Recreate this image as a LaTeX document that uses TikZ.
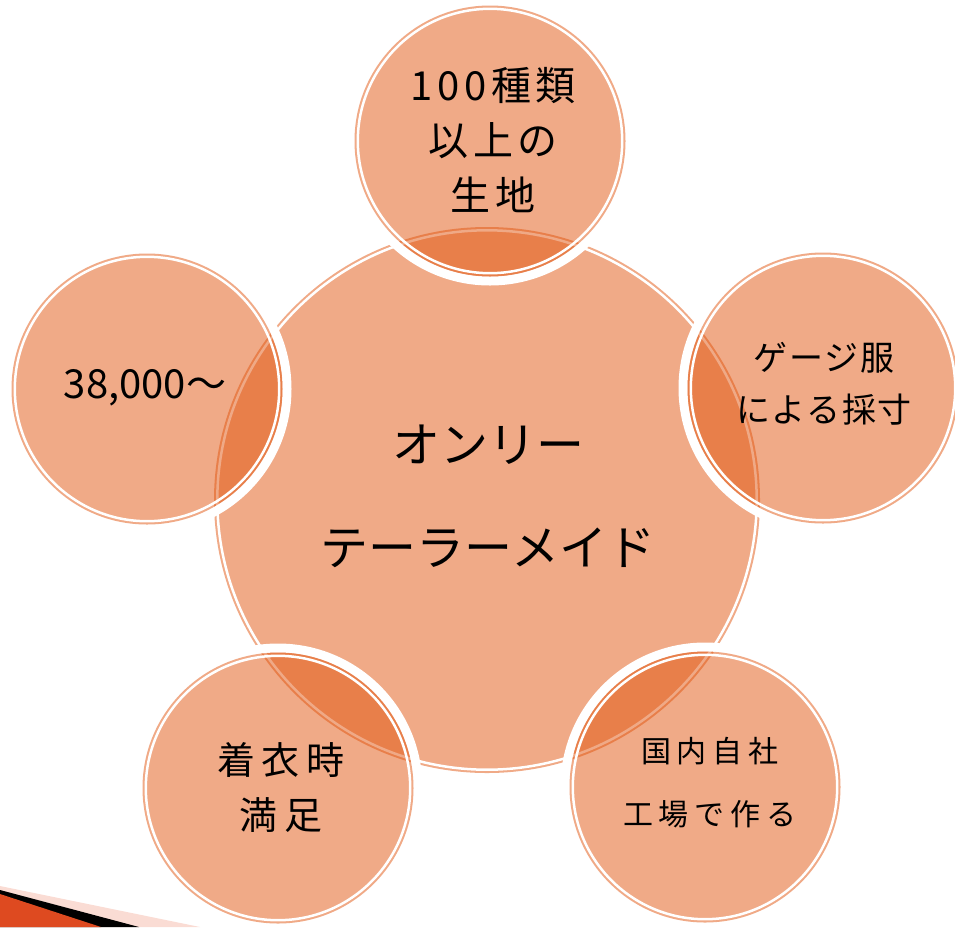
\documentclass[tikz,border=0pt]{standalone}
\usepackage{fontspec}
\setmainfont{Noto Sans CJK JP}
\definecolor{bubbleorange}{RGB}{225,85,15}
\definecolor{decored}{RGB}{222,74,32}
\definecolor{decopink}{RGB}{250,220,212}
\begin{document}
\begin{tikzpicture}[x=1pt,y=-1pt,
  halo/.style={draw=white, line width=9pt},
  bubblefill/.style={fill=bubbleorange, fill opacity=0.5},
  ring/.style={draw=white, line width=2.5pt},
  bubbletext/.style={align=center, text=black, inner sep=0pt}
]
\useasboundingbox (0,0) rectangle (955,927);
\clip (0,0) rectangle (955,927);

% bottom-left decoration
\fill[decopink] (0,886) -- (200,927) -- (0,927) -- cycle;
\fill[black] (0,890) -- (139,927) -- (0,927) -- cycle;
\fill[decored] (0,894) -- (101,927) -- (0,927) -- cycle;

% centre circle
\fill[bubblefill] (487,500) circle (273pt);
\draw[ring] (487,500) circle (269.7pt);

% outer circles
\foreach \cx/\cy in {490/141, 823/388, 705/787, 278/788, 147/389}{
  \draw[halo] (\cx,\cy) circle (140pt);
  \fill[bubblefill] (\cx,\cy) circle (135.5pt);
  \draw[ring] (\cx,\cy) circle (132.2pt);
}

% texts
\node[bubbletext, font=\fontsize{48}{103}\selectfont] (core) at (488,496) {オンリー\\テーラーメイド};
\node[bubbletext, font=\fontsize{40}{55}\selectfont\addfontfeatures{LetterSpace=12}] (fabric) at (493,140) {100種類\\以上の\\生地};
\node[bubbletext, font=\fontsize{34}{52}\selectfont\addfontfeatures{LetterSpace=5}] (gauge) at (824,384) {ゲージ服\\による採寸};
\node[bubbletext, font=\fontsize{30}{63}\selectfont\addfontfeatures{LetterSpace=20}] (factory) at (710,783) {国内自社\\工場で作る};
\node[bubbletext, font=\fontsize{38}{55}\selectfont\addfontfeatures{LetterSpace=18}] (fit) at (281,787) {着衣時\\満足};
\node[bubbletext, font=\fontsize{40}{48}\selectfont] (price) at (145,388) {38,000～};
\end{tikzpicture}
\end{document}
